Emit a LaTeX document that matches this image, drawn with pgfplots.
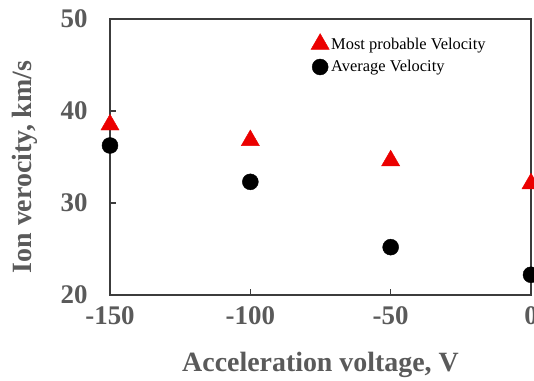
\documentclass[border=0pt]{standalone}
\usepackage{fontspec}
\setmainfont{Liberation Serif}
\usepackage{pgfplots}
\pgfplotsset{compat=1.18}
\definecolor{txtgray}{RGB}{90,90,90}
\definecolor{axgray}{RGB}{60,60,60}
\definecolor{mkred}{RGB}{235,0,0}
\begin{document}
\begin{tikzpicture}
\begin{axis}[
  name=ax,
  scale only axis,
  width=421bp, height=276bp,
  xmin=-150, xmax=0, ymin=20, ymax=50,
  xtick={-150,-100,-50,0}, ytick={20,30,40,50},
  xtick pos=bottom, ytick pos=left,
  tick align=inside,
  major tick length=6bp,
  axis line style={axgray, line width=1.3bp},
  every tick/.style={axgray, line width=1.1bp},
  /pgf/number format/assume math mode=true,
  ticklabel style={font=\fontsize{27}{30}\selectfont\bfseries, text=txtgray},
  yticklabel style={xshift=-19bp},
  xticklabel style={yshift=-8bp},
  xlabel={Acceleration voltage, V},
  ylabel={Ion verocity, km/s},
  label style={font=\fontsize{28}{32}\selectfont\bfseries, text=txtgray},
  xlabel style={at={(axis description cs:0.5,-0.2754)}, anchor=base},
  ylabel style={at={(axis description cs:-0.1876,0.464)}, anchor=base},
  legend style={at={(axis description cs:0.47,0.955)}, anchor=north west,
    draw=none, fill=none, font=\fontsize{16.5}{19}\selectfont, text=black,
    row sep=6bp},
  legend cell align=left,
  clip=false,
]
\addplot[only marks, mark=triangle*, mark size=10.5bp, color=mkred]
  coordinates {(-150,38.5) (-100,36.8) (-50,34.6) (0,32.1)};
\addlegendentry{Most probable Velocity}
\addplot[only marks, mark=*, mark size=8bp, color=black]
  coordinates {(-150,36.25) (-100,32.3) (-50,25.2) (0,22.2)};
\addlegendentry{Average Velocity}
\end{axis}
\pgfresetboundingbox
\path[use as bounding box] (ax.south west) ++(-110bp,-86bp) rectangle ++(534bp,381bp);
\end{tikzpicture}
\end{document}
